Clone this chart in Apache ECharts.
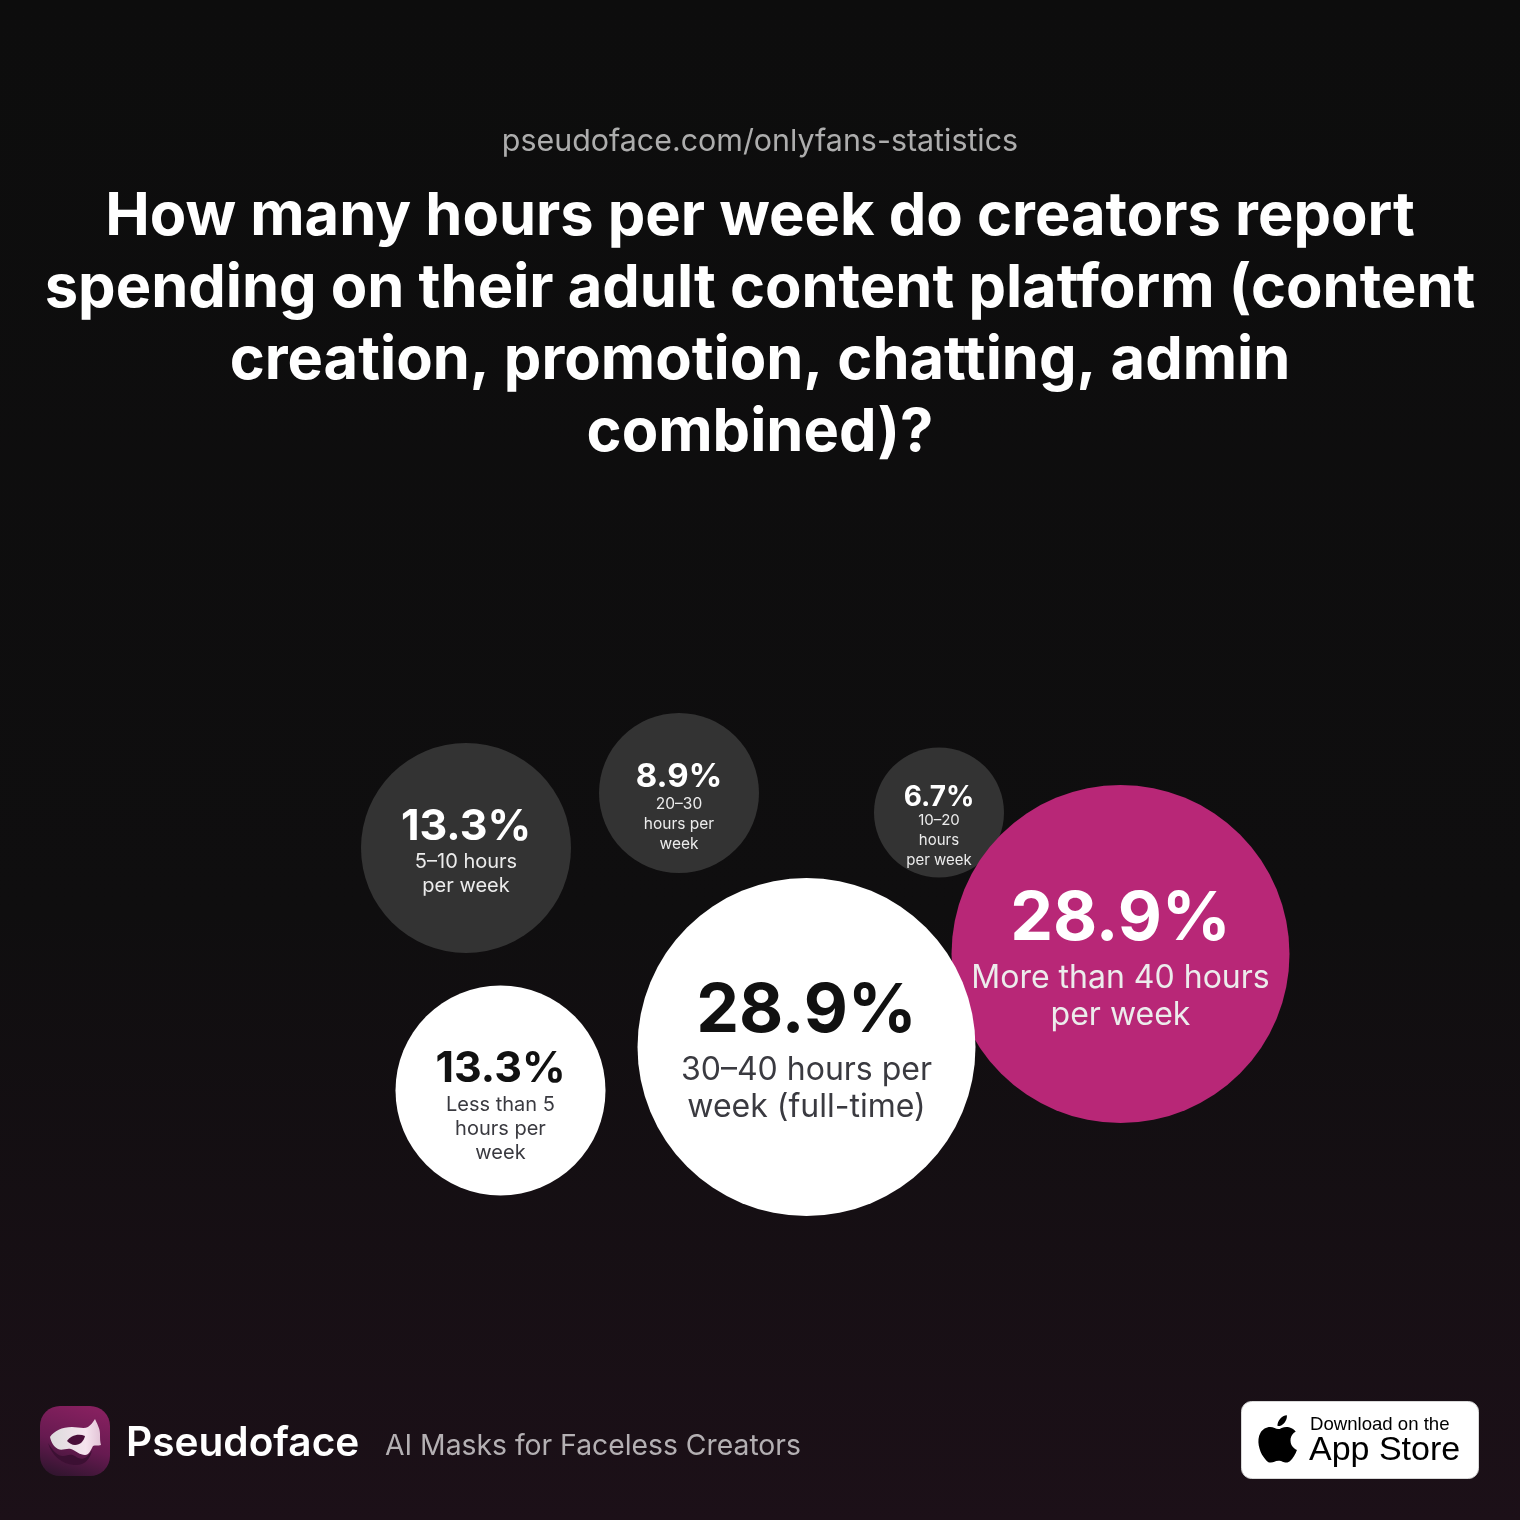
<!DOCTYPE html>
<html><head><meta charset="utf-8">
<style>html,body{margin:0;padding:0;background:#0e0e0e}#c{width:1520px;height:1520px}</style>
<script src="https://cdn.jsdelivr.net/npm/echarts@6/dist/echarts.min.js"></script>
</head><body><div id="c"></div>
<script>
const categories = ["More than 40 hours\nper week","30–40 hours per\nweek (full-time)","5–10 hours\nper week","Less than 5\nhours per\nweek","20–30\nhours per\nweek","10–20\nhours\nper week"];
const shares = [28.9,28.9,13.3,13.3,8.9,6.7];
const shareLabels = ["28.9%","28.9%","13.3%","13.3%","8.9%","6.7%"];
const titleLines = ["How many hours per week do creators report","spending on their adult content platform (content","creation, promotion, chatting, admin","combined)?"];
const sourceText = "pseudoface.com/onlyfans-statistics";
const brandName = "Pseudoface";
const brandTagline = "AI Masks for Faceless Creators";

const FONT = "Inter";
// layout (packing) positions of the bubbles in chart units
const packX = [1120.5,806.5,466,500.5,679,939];
const packY = [954,1047,848,1090.5,793,812.5];
const fills = ["#b82777","#ffffff","#333333","#ffffff","#333333","#333333"];
const sizeStops = [[6.7,130],[8.9,160],[13.3,210],[28.9,338]];
function bubbleSize(v){
  for(let i=1;i<sizeStops.length;i++){
    if(v<=sizeStops[i][0]){
      const a=sizeStops[i-1],b=sizeStops[i];
      return a[1]+(v-a[0])/(b[0]-a[0])*(b[1]-a[1]);
    }
  }
  return sizeStops[sizeStops.length-1][1];
}
const labelType = {
  338:{p:68,t:32,lp:80,lt:37},
  210:{p:43,t:20,lp:46,lt:24},
  160:{p:33,t:15.5,lp:34,lt:20},
  130:{p:28,t:15,lp:26,lt:20}
};
const labelOffsets = [3,2,3,15,14,15];
const drawOrder = [5,0,1,2,3,4];
const seriesData = drawOrder.map(i=>{
  const st = labelType[Math.round(bubbleSize(shares[i]))];
  const dark = fills[i]==="#ffffff";
  return {
    value:[packX[i],packY[i],shares[i]],
    name:categories[i],
    itemStyle:{color:fills[i],opacity:1},
    label:{
      show:true,position:"inside",offset:[0,labelOffsets[i]],
      formatter:"{p|"+shareLabels[i]+"}\n"+categories[i].split("\n").map(s=>"{t|"+s+"}").join("\n"),
      rich:{
        p:{fontFamily:FONT,fontWeight:700,fontSize:st.p,lineHeight:st.lp,color:dark?"#111111":"#ffffff",align:"center"},
        t:{fontFamily:FONT,fontWeight:400,fontSize:st.t,lineHeight:st.lt,color:dark?"#3a3a40":"#ececec",align:"center"}
      }
    }
  };
});
const g = echarts.graphic;
g.registerShape("maskBody", g.extendPath("M50 1437 C54 1431 62 1427 72 1427 C78 1427 84 1429 88 1427 C91 1425 93 1422 95 1419 C97 1424 100 1428 100 1434 C100 1438 100 1442 101 1445 C98 1446 95 1445 93 1446 C91 1450 89 1455 85 1455 C80 1455 76 1451 71 1449 C66 1448 62 1451 58 1449 C54 1447 51 1442 50 1437 Z",{}));
g.registerShape("maskShadow", g.extendPath("M48 1443 C52 1449 56 1455 62 1456 C67 1456 70 1453 75 1456 C80 1460 86 1461 92 1450 C90 1460 84 1466 74 1465 C62 1464 52 1456 48 1443 Z",{}));
g.registerShape("maskEye", g.extendPath("M67 1441 C70 1436 78 1433 85 1436 C84 1441 80 1445 75 1445 C72 1445 69 1443 67 1441 Z",{}));
g.registerShape("apple", g.extendPath("M 1290.5 1440.5 C 1290.5 1434.5 1295.5 1431.8 1295.7 1431.6 C 1292.9 1427.6 1288.7 1427 1287.2 1426.9 C 1283.5 1426.6 1280 1429.1 1278.1 1429.1 C 1276.2 1429.1 1273.3 1427 1270.2 1427 C 1266.2 1427 1262.5 1429.3 1260.4 1432.9 C 1256.2 1440.1 1259.3 1450.9 1263.4 1456.7 C 1265.4 1459.6 1267.7 1462.8 1270.8 1462.6 C 1273.8 1462.5 1274.9 1460.7 1278.5 1460.7 C 1282.1 1460.7 1283.1 1462.6 1286.3 1462.6 C 1289.6 1462.5 1291.6 1459.6 1293.6 1456.7 C 1295.9 1453.4 1296.8 1450.1 1296.9 1449.9 C 1296.8 1449.9 1290.5 1447.5 1290.5 1440.5 Z M 1284.5 1422.7 C 1286.1 1420.7 1287.2 1418 1286.9 1415.3 C 1284.5 1415.4 1281.6 1416.9 1280 1418.9 C 1278.5 1420.7 1277.2 1423.5 1277.5 1426.1 C 1280.2 1426.3 1282.9 1424.7 1284.5 1422.7 Z",{}));
const chart = echarts.init(document.getElementById("c"),null,{width:1520,height:1520});
const titleGraphics = titleLines.map((s,i)=>({
  type:"text",x:760,y:217+i*72,silent:true,
  style:{text:s,fontFamily:FONT,fontWeight:700,fontSize:59.6,fill:"#ffffff",textAlign:"center",textVerticalAlign:"middle"}
}));
chart.setOption({
  animation:false,
  backgroundColor:{type:"linear",x:0,y:0,x2:0,y2:1,colorStops:[{offset:0,color:"#0d0d0d"},{offset:0.6,color:"#0f0e0f"},{offset:1,color:"#1c1018"}]},
  grid:{left:0,right:0,top:0,bottom:0},
  xAxis:{type:"value",min:0,max:1520,show:false},
  yAxis:{type:"value",min:0,max:1520,inverse:true,show:false},
  series:[{
    type:"scatter",
    symbol:"circle",
    symbolSize:v=>bubbleSize(v[2]),
    silent:true,
    data:seriesData
  }],
  graphic:[
    {type:"text",x:760,y:142,silent:true,style:{text:sourceText,fontFamily:FONT,fontWeight:400,fontSize:30.4,fill:"#adadad",textAlign:"center",textVerticalAlign:"middle"}},
    ...titleGraphics,
    {type:"rect",silent:true,shape:{x:40,y:1406,width:70,height:70,r:20},style:{fill:{type:"linear",x:0.6,y:0,x2:0.3,y2:1,colorStops:[{offset:0,color:"#86205f"},{offset:0.55,color:"#661a50"},{offset:1,color:"#331530"}]}}},
    {type:"maskShadow",silent:true,style:{fill:"#3c1033"}},
    {type:"maskBody",silent:true,style:{fill:{type:"linear",x:0,y:0,x2:1,y2:0,colorStops:[{offset:0,color:"#dcdcdc"},{offset:0.7,color:"#f5e4ee"},{offset:1,color:"#e2c3d6"}]}}},
    {type:"maskEye",silent:true,style:{fill:"#4a0f3a"}},
    {type:"text",x:126,y:1444,silent:true,style:{text:brandName,fontFamily:FONT,fontWeight:600,fontSize:40.6,fill:"#ffffff",textAlign:"left",textVerticalAlign:"middle"}},
    {type:"text",x:385,y:1446,silent:true,style:{text:brandTagline,fontFamily:FONT,fontWeight:400,fontSize:28.3,fill:"#b4b0b3",textAlign:"left",textVerticalAlign:"middle"}},
    {type:"rect",silent:true,shape:{x:1241.5,y:1401.5,width:237,height:77,r:10},style:{fill:"#ffffff",stroke:"#d8d8d8",lineWidth:1}},
    {type:"apple",silent:true,style:{fill:"#000000"}},
    {type:"text",x:1310,y:1425,silent:true,style:{text:"Download on the",fontFamily:"Liberation Sans",fontSize:18.6,fill:"#000000",textAlign:"left",textVerticalAlign:"middle"}},
    {type:"text",x:1309,y:1451,silent:true,style:{text:"App Store",fontFamily:"Liberation Sans",fontSize:34,fill:"#000000",textAlign:"left",textVerticalAlign:"middle"}}
  ]
});
</script></body></html>
